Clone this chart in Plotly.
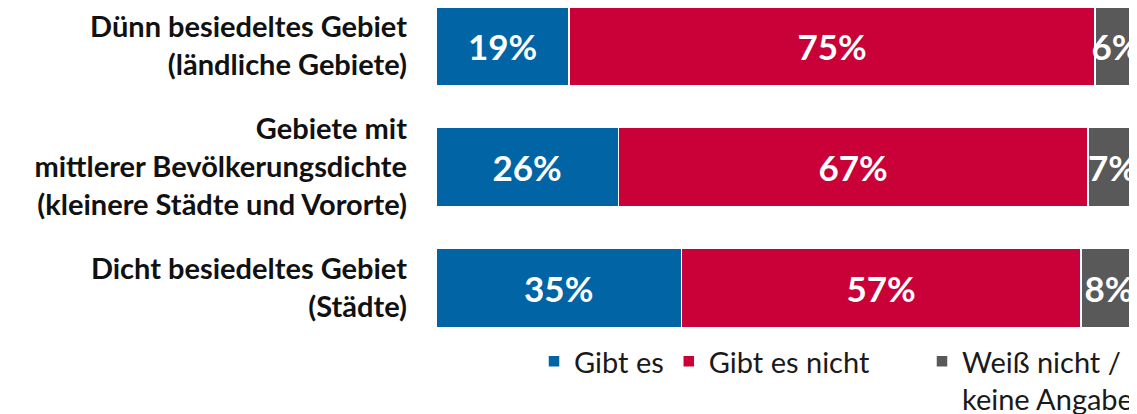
import plotly.graph_objects as go

# Data
categories = [
    "<b>Dünn besiedeltes Gebiet<br>(ländliche Gebiete)</b>",
    "<b>Gebiete mit<br>mittlerer Bevölkerungsdichte<br>(kleinere Städte und Vororte)</b>",
    "<b>Dicht besiedeltes Gebiet<br>(Städte)</b>",
]
series_names = ["Gibt es", "Gibt es nicht", "Weiß nicht /<br>keine Angabe"]
gibt_es = [19, 26, 35]
gibt_es_nicht = [75, 67, 57]
weiss_nicht = [6, 7, 8]
colors = ["#0064A5", "#CA0038", "#595959"]
legends = ["legend", "legend", "legend2"]

fig = go.Figure()

for name, values, color, lg in zip(series_names, [gibt_es, gibt_es_nicht, weiss_nicht], colors, legends):
    fig.add_trace(
        go.Bar(
            y=categories,
            x=values,
            name=name,
            orientation="h",
            marker=dict(color=color, line=dict(color="white", width=1.5)),
            text=[f"<b>{v}%</b>" for v in values],
            textposition="inside",
            insidetextanchor="middle",
            textangle=0,
            textfont=dict(color="white", size=35, family="Lato"),
            cliponaxis=False,
            legend=lg,
        )
    )

W, H = 1129, 406
legend_font = dict(size=29, color="#1a1a1a", family="Lato")

fig.update_layout(
    width=W,
    height=H,
    barmode="stack",
    bargap=0.345,
    plot_bgcolor="white",
    paper_bgcolor="white",
    font=dict(family="Lato", color="#111111"),
    margin=dict(l=428, r=0, t=0, b=73),
    uniformtext=dict(minsize=35, mode="show"),
    xaxis=dict(range=[0, 100], visible=False),
    yaxis=dict(
        range=[2.399, -0.315],
        showgrid=False,
        showline=False,
        ticks="",
        tickfont=dict(size=29, color="#111111", family="Lato"),
        ticklabelstandoff=28,
    ),
    legend=dict(
        orientation="h",
        x=526 / W,
        xref="container",
        xanchor="left",
        y=1 - 328 / H,
        yref="container",
        yanchor="top",
        valign="top",
        font=legend_font,
        traceorder="normal",
    ),
    legend2=dict(
        orientation="h",
        x=914 / W,
        xref="container",
        xanchor="left",
        y=1 - 328 / H,
        yref="container",
        yanchor="top",
        valign="top",
        font=legend_font,
    ),
)

fig.write_html("out.html")
